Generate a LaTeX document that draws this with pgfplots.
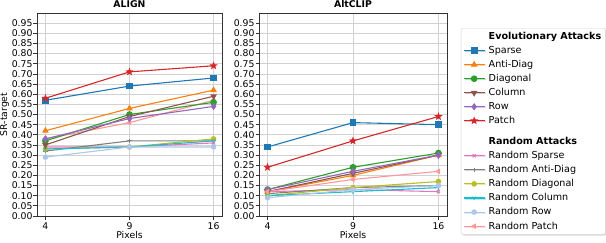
\documentclass[border=0pt]{standalone}
\usepackage{fontspec}
\setmainfont{DejaVu Sans}
\usepackage{pgfplots}
\pgfplotsset{compat=1.18}
\usetikzlibrary{shadows}
\definecolor{c0}{HTML}{1F77B4}
\definecolor{c1}{HTML}{FF7F0E}
\definecolor{c2}{HTML}{2CA02C}
\definecolor{c3}{HTML}{D62728}
\definecolor{c4}{HTML}{9467BD}
\definecolor{c5}{HTML}{8C564B}
\definecolor{c6}{HTML}{E377C2}
\definecolor{c7}{HTML}{7F7F7F}
\definecolor{c8}{HTML}{BCBD22}
\definecolor{c9}{HTML}{17BECF}
\definecolor{c10}{HTML}{AEC7E8}
\definecolor{c11}{HTML}{FF9896}
\pgfdeclareplotmark{fstar}{%
  \pgfpathmoveto{\pgfpointpolar{90}{\pgfplotmarksize}}%
  \pgfpathlineto{\pgfpointpolar{126}{0.42\pgfplotmarksize}}%
  \pgfpathlineto{\pgfpointpolar{162}{\pgfplotmarksize}}%
  \pgfpathlineto{\pgfpointpolar{198}{0.42\pgfplotmarksize}}%
  \pgfpathlineto{\pgfpointpolar{234}{\pgfplotmarksize}}%
  \pgfpathlineto{\pgfpointpolar{270}{0.42\pgfplotmarksize}}%
  \pgfpathlineto{\pgfpointpolar{306}{\pgfplotmarksize}}%
  \pgfpathlineto{\pgfpointpolar{342}{0.42\pgfplotmarksize}}%
  \pgfpathlineto{\pgfpointpolar{18}{\pgfplotmarksize}}%
  \pgfpathlineto{\pgfpointpolar{54}{0.42\pgfplotmarksize}}%
  \pgfpathclose\pgfusepathqfillstroke}
\pgfdeclareplotmark{tridown}{%
  \pgfpathmoveto{\pgfpointorigin}\pgfpathlineto{\pgfpointpolar{270}{\pgfplotmarksize}}%
  \pgfpathmoveto{\pgfpointorigin}\pgfpathlineto{\pgfpointpolar{30}{\pgfplotmarksize}}%
  \pgfpathmoveto{\pgfpointorigin}\pgfpathlineto{\pgfpointpolar{150}{\pgfplotmarksize}}%
  \pgfusepathqstroke}
\pgfplotsset{
  base/.style={
    scale only axis, width=185pt, height=203pt,
    xmin=-0.1, xmax=2.1, ymin=0, ymax=1.0,
    xtick={0,1,2}, xticklabels={4,9,16},
    ytick={0,0.05,...,0.951},
    yticklabel style={inner xsep=0.8pt, /pgf/number format/.cd,fixed,fixed zerofill,precision=2},
    /pgf/number format/assume math mode=true,
    tick label style={font=\fontsize{9.3}{11}\selectfont},
    label style={font=\fontsize{9.3}{11}\selectfont},
    title style={font=\fontsize{9.3}{10}\selectfont\bfseries, yshift=-4.5pt},
    tick align=outside, tick pos=left, major tick length=3.5pt,
    grid=major, major grid style={gray!35, line width=0.8pt},
    axis line style={black!80, line width=0.8pt},
    every tick/.style={black!80, line width=0.8pt},
    xlabel={Pixels},
    xlabel style={yshift=5.5pt},
    every axis plot/.append style={line width=1.1pt},
  },
  ev/.style={color=#1, mark options={solid, fill=#1}, mark size=2.8pt},
  rd/.style={color=#1, mark options={solid, fill=#1}, mark size=2.2pt},
}
\begin{document}
\begin{tikzpicture}
\path[use as bounding box] (0pt,0pt) rectangle (606pt,242pt);
\begin{axis}[base, at={(37pt,26pt)}, anchor=south west, title={ALIGN}, ylabel={SR-target}, ylabel style={yshift=-1.5pt}]
\addplot[rd=c6, mark=x] coordinates {(0,0.34) (1,0.34) (2,0.36)};
\addplot[rd=c7, mark=+] coordinates {(0,0.32) (1,0.37) (2,0.37)};
\addplot[rd=c8, mark=*] coordinates {(0,0.33) (1,0.34) (2,0.38)};
\addplot[rd=c9, mark=tridown] coordinates {(0,0.33) (1,0.34) (2,0.37)};
\addplot[rd=c10, mark=*] coordinates {(0,0.29) (1,0.34) (2,0.34)};
\addplot[rd=c11, mark=triangle*, mark options={rotate=90}] coordinates {(0,0.38) (1,0.46) (2,0.57)};
\addplot[ev=c0, mark=square*] coordinates {(0,0.57) (1,0.64) (2,0.68)};
\addplot[ev=c1, mark=triangle*] coordinates {(0,0.42) (1,0.53) (2,0.62)};
\addplot[ev=c2, mark=*] coordinates {(0,0.37) (1,0.50) (2,0.56)};
\addplot[ev=c5, mark=triangle*, mark options={rotate=180}] coordinates {(0,0.35) (1,0.49) (2,0.59)};
\addplot[ev=c4, mark=diamond*] coordinates {(0,0.38) (1,0.48) (2,0.54)};
\addplot[ev=c3, mark=fstar] coordinates {(0,0.58) (1,0.71) (2,0.74)};
\end{axis}
\begin{axis}[base, at={(259pt,26pt)}, anchor=south west, width=188pt, title={AltCLIP},
  legend cell align=left,
  legend style={at={(1.074,0.926)}, anchor=north west, draw=gray!35, rounded corners=2pt,
    fill=white, drop shadow={shadow xshift=1pt, shadow yshift=-1pt, opacity=0.3},
    font=\fontsize{9.6}{11}\selectfont, row sep=1.3pt, inner xsep=2pt, inner ysep=2pt,
    /tikz/every odd column/.style={column sep=1.5pt}},
  legend image code/.code={\draw[mark repeat=2,mark phase=2] plot coordinates {(0pt,0pt) (10.5pt,0pt) (21pt,0pt)};},
  legend image post style={line width=1.1pt}]
\addlegendimage{empty legend}\addlegendentry{\textbf{Evolutionary Attacks}}
\addplot[ev=c0, mark=square*] coordinates {(0,0.34) (1,0.46) (2,0.45)};\addlegendentry{Sparse}
\addplot[ev=c1, mark=triangle*] coordinates {(0,0.12) (1,0.20) (2,0.30)};\addlegendentry{Anti-Diag}
\addplot[ev=c2, mark=*] coordinates {(0,0.13) (1,0.24) (2,0.31)};\addlegendentry{Diagonal}
\addplot[ev=c5, mark=triangle*, mark options={rotate=180}] coordinates {(0,0.12) (1,0.21) (2,0.30)};\addlegendentry{Column}
\addplot[ev=c4, mark=diamond*] coordinates {(0,0.13) (1,0.22) (2,0.30)};\addlegendentry{Row}
\addplot[ev=c3, mark=fstar] coordinates {(0,0.24) (1,0.37) (2,0.49)};\addlegendentry{Patch}
\addlegendimage{empty legend}\addlegendentry{}
\addlegendimage{empty legend}\addlegendentry{\textbf{Random Attacks}}
\addplot[rd=c6, mark=x] coordinates {(0,0.12) (1,0.13) (2,0.12)};\addlegendentry{Random Sparse}
\addplot[rd=c7, mark=+] coordinates {(0,0.11) (1,0.14) (2,0.15)};\addlegendentry{Random Anti-Diag}
\addplot[rd=c8, mark=*] coordinates {(0,0.10) (1,0.14) (2,0.17)};\addlegendentry{Random Diagonal}
\addplot[rd=c9, mark=tridown] coordinates {(0,0.10) (1,0.12) (2,0.14)};\addlegendentry{Random Column}
\addplot[rd=c10, mark=*] coordinates {(0,0.09) (1,0.13) (2,0.15)};\addlegendentry{Random Row}
\addplot[rd=c11, mark=triangle*, mark options={rotate=90}] coordinates {(0,0.12) (1,0.18) (2,0.22)};\addlegendentry{Random Patch}
\end{axis}
\end{tikzpicture}
\end{document}
